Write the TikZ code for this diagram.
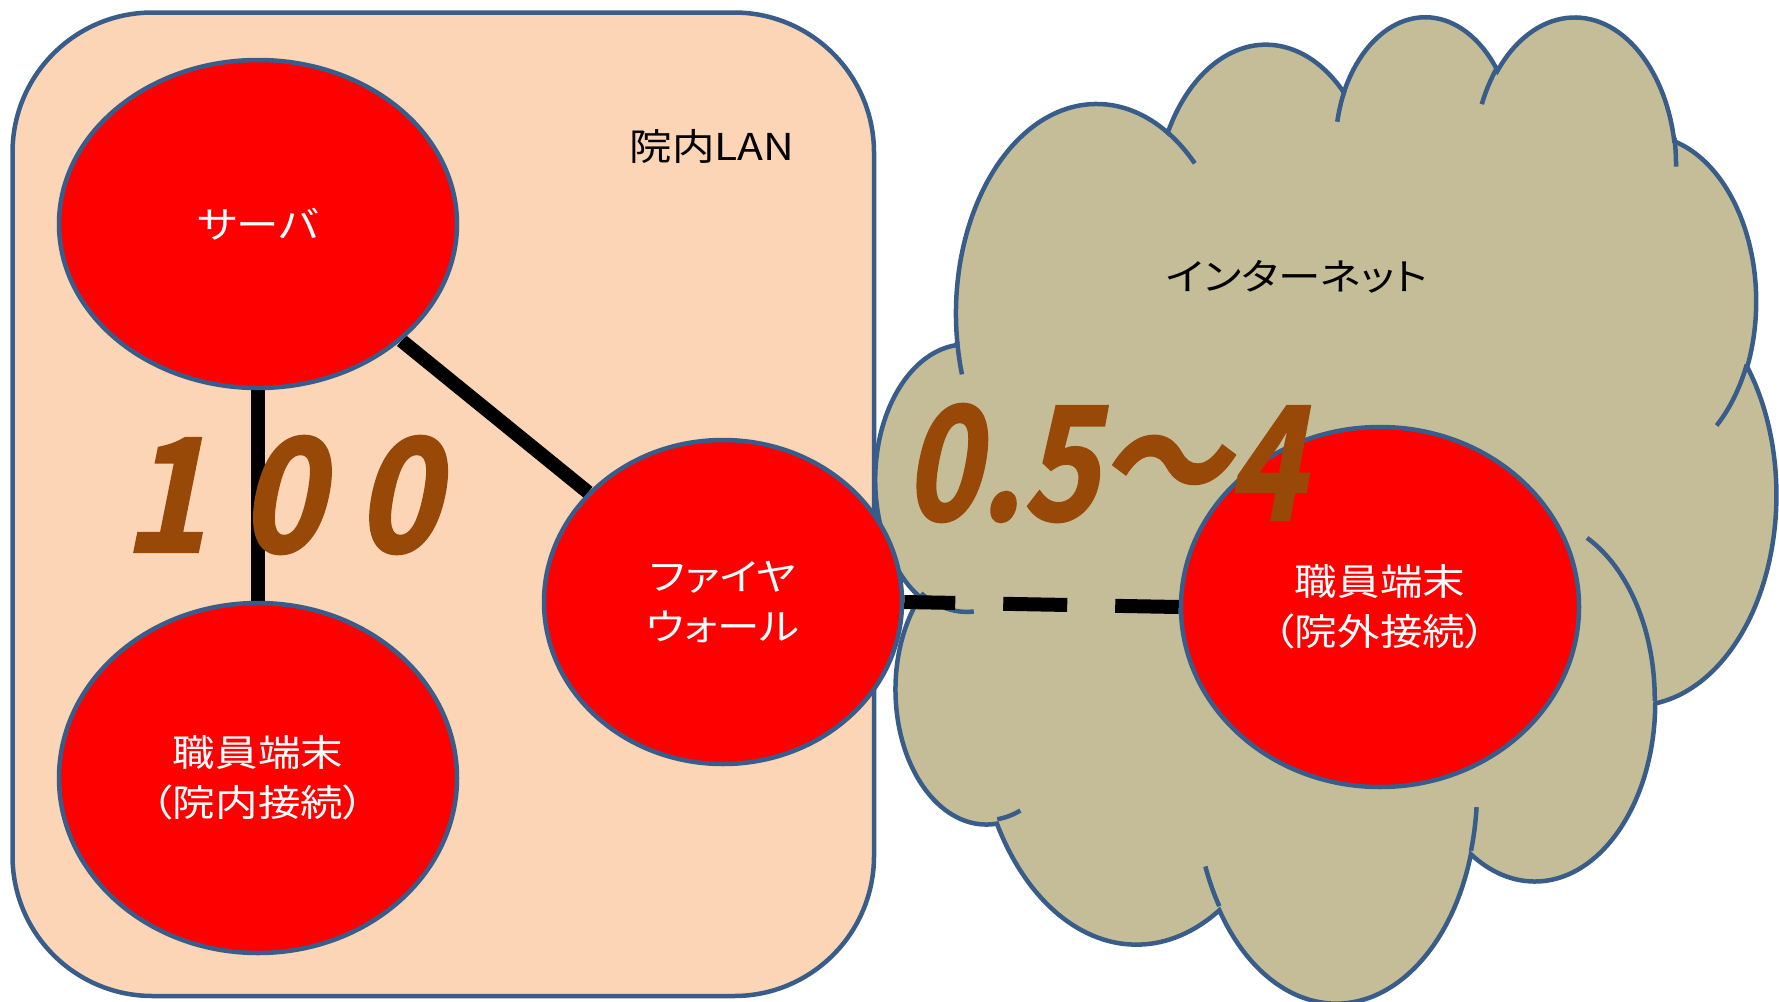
\documentclass[tikz,border=0pt]{standalone}
\usepackage{fontspec}
\usetikzlibrary{shapes.geometric}

\newfontfamily\jpfont{Noto Sans CJK JP}[RawFeature=+palt, FakeStretch=1.15]
\newfontfamily\numfont{Noto Sans CJK JP Bold}[RawFeature=+palt, FakeSlant=0.2, FakeStretch=0.9, FakeBold=1.5]

\definecolor{edgeblue}{HTML}{385D8A}
\definecolor{lanfill}{HTML}{FBD5B5}
\definecolor{netfill}{HTML}{C4BD97}
\definecolor{ratebrown}{HTML}{984807}

\pgfdeclarelayer{zones}
\pgfdeclarelayer{links}
\pgfsetlayers{zones,links,main}

\begin{document}
\begin{tikzpicture}[x=1pt,y=-1pt,
  host/.style={ellipse, draw=edgeblue, line width=4.5pt, fill=red, text=white,
    inner sep=0pt, align=center, font=\jpfont\fontsize{37}{50}\selectfont},
  zone/.style={font=\jpfont\fontsize{37}{50}\selectfont, inner sep=0pt},
  rate/.style={text=ratebrown, font=\numfont\fontsize{158}{160}\selectfont, inner sep=0pt},
  link/.style={line width=14pt},
  cloudline/.style={draw=edgeblue, line width=4.5pt}]

\useasboundingbox (0,0) rectangle (1779,1001);

\begin{pgfonlayer}{zones}
% hospital LAN
\draw[edgeblue, fill=lanfill, line width=4.5pt, rounded corners=140pt]
  (12.5,12.5) rectangle (874,996);

% internet cloud
\begin{scope}[shift={(876,14)}, x=2.0833pt, y=-2.2824pt]
\filldraw[cloudline, fill=netfill] (39.00,143.70)
  arc[x radius=67.53, y radius=91.90, start angle=172.25, delta angle=128.10]
  arc[x radius=53.33, y radius=72.67, start angle=-152.02, delta angle=106.60]
  arc[x radius=43.65, y radius=59.45, start angle=-153.49, delta angle=116.17]
  arc[x radius=48.57, y radius=65.95, start angle=-139.72, delta angle=129.51]
  arc[x radius=53.33, y radius=72.73, start angle=-74.77, delta angle=97.98]
  arc[x radius=67.75, y radius=92.20, start angle=-37.53, delta angle=119.40]
  arc[x radius=57.85, y radius=78.67, start angle=0.46, delta angle=121.53]
  arc[x radius=67.52, y radius=92.15, start angle=16.85, delta angle=129.37]
  arc[x radius=77.20, y radius=105.43, start angle=58.97, delta angle=91.23]
  arc[x radius=43.60, y radius=59.18, start angle=83.30, delta angle=139.82]
  arc[x radius=43.45, y radius=59.45, start angle=120.35, delta angle=143.76]
  -- cycle;
\draw[cloudline]
  (46.93,261.77) arc[x radius=43.45, y radius=59.45, start angle=85.54, delta angle=34.81]
  (69.28,348.99) arc[x radius=43.60, y radius=59.18, start angle=68.23, delta angle=15.07]
  (164.78,390.90) arc[x radius=67.52, y radius=92.15, start angle=146.22, delta angle=12.25]
  (288.27,347.51) arc[x radius=67.52, y radius=92.15, start angle=4.74, delta angle=12.12]
  (341.29,229.54) arc[x radius=57.85, y radius=78.67, start angle=-64.03, delta angle=64.49]
  (417.98,153.54) arc[x radius=53.33, y radius=72.73, start angle=23.21, delta angle=26.44]
  (383.24,54.26) arc[x radius=48.57, y radius=65.95, start angle=-10.21, delta angle=11.03]
  (290.78,39.52) arc[x radius=48.57, y radius=65.95, start angle=-156.28, delta angle=16.56]
  (221.41,47.20) arc[x radius=43.65, y radius=59.45, start angle=-167.72, delta angle=14.23]
  (140.00,51.92) arc[x radius=67.53, y radius=91.90, start angle=-59.63, delta angle=13.92]
  (41.27,157.89) arc[x radius=67.53, y radius=91.90, start angle=163.18, delta angle=9.07];
\end{scope}
\end{pgfonlayer}

% hosts
\node[host, minimum width=398pt, minimum height=328pt] (server) at (258,224) {サーバ};
\node[host, minimum width=398pt, minimum height=350pt] (staffin) at (258,778)
  {職員端末\\（院内接続）};
\node[host, minimum width=358pt, minimum height=324pt] (firewall) at (723,602)
  {ファイヤ\\ウォール};
\node[host, minimum width=398pt, minimum height=360pt] (staffout) at (1380,607)
  {職員端末\\（院外接続）};

% links
\begin{pgfonlayer}{links}
\draw[link] (server) -- (staffin);
\draw[link] (server) -- (firewall);
\draw[link, dash pattern=on 64pt off 48pt, dash phase=13pt] (firewall.east) -- (staffout.west);
\end{pgfonlayer}

% zone labels
\node[zone] (lan) at (712,146) {院内LAN};
\node[zone] (net) at (1297,277) {インターネット};

% rates
\node[rate] (lanrate) at (281,495) {1 0 0};
\node[rate, xscale=0.91] (netrate) at (1104,463) {0.5～4};

\end{tikzpicture}
\end{document}
